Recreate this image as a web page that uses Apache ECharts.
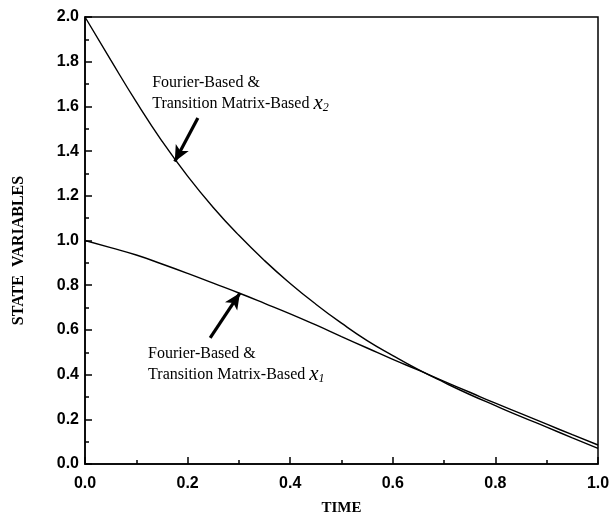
<!DOCTYPE html>
<html>
<head>
<meta charset="utf-8">
<script src="https://cdn.jsdelivr.net/npm/echarts@6/dist/echarts.min.js"></script>
<style>html,body{margin:0;padding:0;background:#fff}#c{width:610px;height:517px}</style>
</head>
<body>
<div id="c"></div>
<script>
var times = [0, 0.05, 0.1, 0.15, 0.2, 0.25, 0.3, 0.35, 0.4, 0.45, 0.5, 0.55, 0.6, 0.65, 0.7, 0.75, 0.8, 0.85, 0.9, 0.95, 1.0];
var x1Values = [1.0, 0.968, 0.935, 0.895, 0.853, 0.809, 0.765, 0.719, 0.672, 0.622, 0.57, 0.519, 0.468, 0.42, 0.37, 0.321, 0.272, 0.225, 0.178, 0.131, 0.085];
var x2Values = [2.0, 1.808, 1.62, 1.445, 1.288, 1.148, 1.023, 0.91, 0.808, 0.715, 0.63, 0.552, 0.485, 0.422, 0.365, 0.311, 0.261, 0.212, 0.165, 0.117, 0.07];
var xTicks = [0, 0.2, 0.4, 0.6, 0.8, 1.0];
var yTicks = [0, 0.2, 0.4, 0.6, 0.8, 1.0, 1.2, 1.4, 1.6, 1.8, 2.0];
// annotation anchors in data units: [t, value]
var arrowX2 = [[0.220, 1.548], [0.175, 1.353]];
var arrowX1 = [[0.244, 0.564], [0.302, 0.765]];
var labelX2 = [0.131, 1.754];
var labelX1 = [0.123, 0.542];

function pairs(xs, ys) { return xs.map(function (x, i) { return [x, ys[i]]; }); }

var chart = echarts.init(document.getElementById('c'), null, { renderer: 'canvas' });
var axisFont = { color: '#000', fontFamily: 'Liberation Sans, Arial, sans-serif', fontWeight: 'bold', fontSize: 16 };
var serif = 'Liberation Serif, Times New Roman, serif';
var option = {
  animation: false,
  backgroundColor: '#fff',
  grid: { left: 85, right: 12, top: 17, bottom: 53, containLabel: false, outerBoundsMode: 'none', show: true, borderColor: '#000', borderWidth: 1.5, backgroundColor: 'transparent' },
  xAxis: {
    type: 'value', min: xTicks[0], max: xTicks[xTicks.length - 1], interval: 0.2,
    name: 'TIME', nameLocation: 'middle', nameGap: 37,
    nameTextStyle: { color: '#000', fontFamily: serif, fontWeight: 'bold', fontSize: 15 },
    axisLine: { lineStyle: { color: '#000', width: 1.5 } },
    axisTick: { inside: true, length: 7, lineStyle: { color: '#000', width: 1.5 } },
    minorTick: { show: true, splitNumber: 2, length: 4, lineStyle: { color: '#000', width: 1.5 } },
    splitLine: { show: false },
    axisLabel: Object.assign({ margin: 12, formatter: function (v) { return v.toFixed(1); } }, axisFont)
  },
  yAxis: {
    type: 'value', min: yTicks[0], max: yTicks[yTicks.length - 1], interval: 0.2,
    name: 'STATE  VARIABLES', nameLocation: 'middle', nameGap: 58,
    nameTextStyle: { color: '#000', fontFamily: serif, fontWeight: 'bold', fontSize: 16, padding: [0, 20, 0, 0] },
    axisLine: { show: true, lineStyle: { color: '#000', width: 1.5 } },
    axisTick: { show: true, inside: true, length: 7, lineStyle: { color: '#000', width: 1.5 } },
    minorTick: { show: true, splitNumber: 2, length: 4, lineStyle: { color: '#000', width: 1.5 } },
    splitLine: { show: false },
    axisLabel: Object.assign({ margin: 6, formatter: function (v) { return v.toFixed(1); } }, axisFont)
  },
  series: [
    {
      name: 'x1', type: 'line', smooth: 0.5, showSymbol: false, data: pairs(times, x1Values),
      lineStyle: { color: '#000', width: 1.4 },
      markLine: {
        silent: true, symbol: ['none', 'arrow'], symbolSize: [11, 16], label: { show: false },
        lineStyle: { color: '#000', width: 3.2, type: 'solid' },
        data: [[{ coord: arrowX1[0] }, { coord: arrowX1[1] }]]
      }
    },
    {
      name: 'x2', type: 'line', smooth: 0.5, showSymbol: false, data: pairs(times, x2Values),
      lineStyle: { color: '#000', width: 1.4 },
      markLine: {
        silent: true, symbol: ['none', 'arrow'], symbolSize: [11, 16], label: { show: false },
        lineStyle: { color: '#000', width: 3.2, type: 'solid' },
        data: [[{ coord: arrowX2[0] }, { coord: arrowX2[1] }]]
      }
    }
  ]
};
chart.setOption(option);

var rich = {
  a: { fontFamily: serif, fontSize: 16, lineHeight: 21, color: '#000' },
  x: { fontFamily: serif, fontStyle: 'italic', fontSize: 21, lineHeight: 21, color: '#000' },
  s: { fontFamily: serif, fontStyle: 'italic', fontSize: 12, lineHeight: 21, color: '#000', padding: [9, 0, 0, 0] }
};
function label(pos, sub) {
  var p = chart.convertToPixel({ gridIndex: 0 }, pos);
  return {
    type: 'text', x: p[0], y: p[1], silent: true,
    style: { text: '{a|Fourier-Based &}\n{a|Transition Matrix-Based }{x|x}{s|' + sub + '}', rich: rich, verticalAlign: 'top', align: 'left' }
  };
}
chart.setOption({ graphic: [label(labelX2, '2'), label(labelX1, '1')] });
</script>
</body>
</html>
